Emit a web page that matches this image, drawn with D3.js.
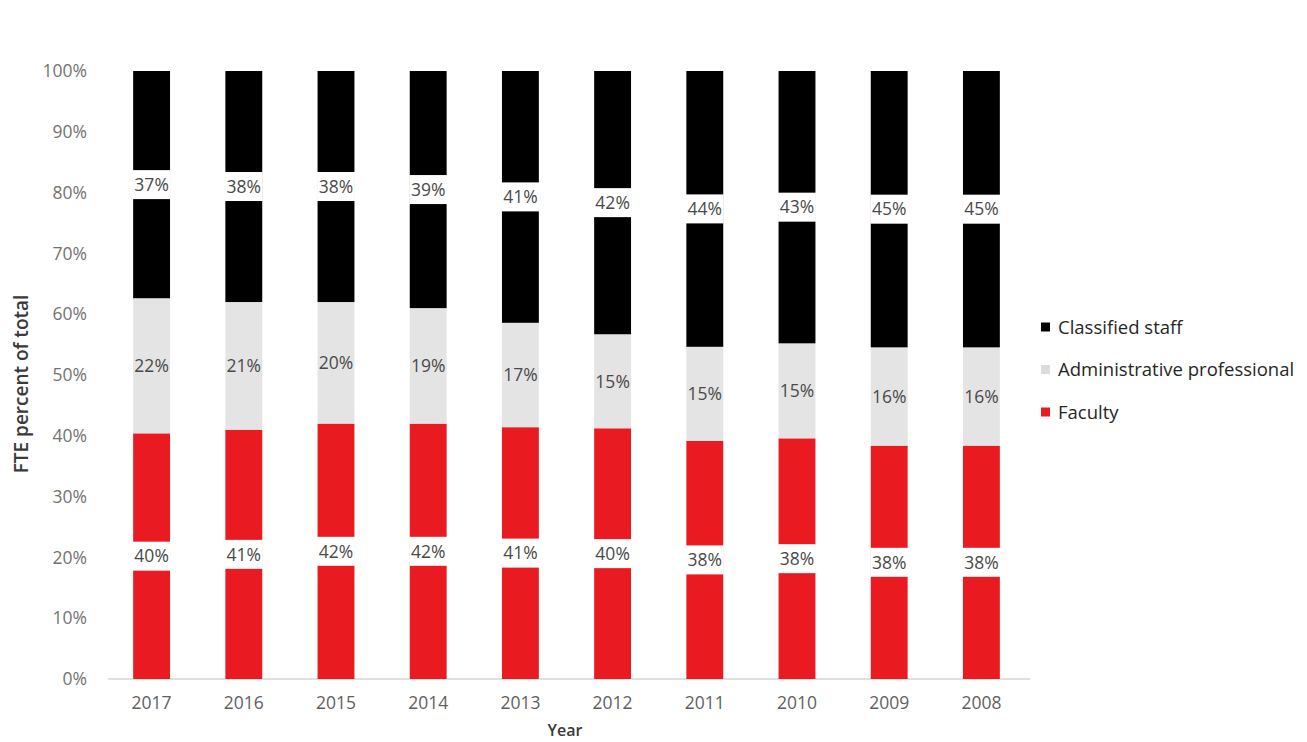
<!DOCTYPE html>
<html>
<head>
<meta charset="utf-8">
<script src="https://cdn.jsdelivr.net/npm/d3@7"></script>
<style>
  html, body { margin: 0; padding: 0; background: #fff; }
  svg { display: block; }
  text { font-family: "Open Sans", "Liberation Sans", sans-serif; }
</style>
</head>
<body>
<svg id="chart" width="1307" height="742"></svg>
<script>
// Staffing mix by year (percent of FTE total)
const years = ["2017", "2016", "2015", "2014", "2013", "2012", "2011", "2010", "2009", "2008"];
const faculty = [40, 41, 42, 42, 41, 40, 38, 38, 38, 38];
const adminProfessional = [22, 21, 20, 19, 17, 15, 15, 15, 16, 16];
const classifiedStaff = [37, 38, 38, 39, 41, 42, 44, 43, 45, 45];
const seriesNames = ["Faculty", "Administrative professional", "Classified staff"];
const yTicks = [0, 0.1, 0.2, 0.3, 0.4, 0.5, 0.6, 0.7, 0.8, 0.9, 1];

const colors = {
  "Faculty": "#ea1a21",
  "Administrative professional": "#e4e4e4",
  "Classified staff": "#000000"
};

const rows = years.map((y, i) => ({
  year: y,
  "Faculty": faculty[i],
  "Administrative professional": adminProfessional[i],
  "Classified staff": classifiedStaff[i]
}));

const svg = d3.select("#chart");
const margin = { left: 105.5, right: 280, top: 71, bottom: 63 };
const W = 1307, H = 742;

const x = d3.scaleBand()
  .domain(years)
  .range([margin.left, margin.left + 922])
  .paddingInner(0.6)
  .paddingOuter(0.3);

const y = d3.scaleLinear()
  .domain([0, 1])
  .range([H - margin.bottom, margin.top]);

// 100% stacked layout
const stacked = d3.stack()
  .keys(seriesNames)
  .offset(d3.stackOffsetExpand)(rows);

// y axis tick labels
const yAxis = d3.axisLeft(y)
  .tickValues(yTicks)
  .tickFormat(d3.format(".0%"))
  .tickSize(0)
  .tickPadding(0);
const gy = svg.append("g")
  .attr("transform", `translate(87,0)`)
  .call(yAxis);
gy.select(".domain").remove();
gy.selectAll("text")
  .attr("fill", "#737373")
  .style("font-size", "17.5px");

// baseline
svg.append("line")
  .attr("x1", 108).attr("x2", 1030)
  .attr("y1", y(0)).attr("y2", y(0))
  .attr("stroke", "#d6d6d6").attr("stroke-width", 1.5);

// x axis labels
const xAxis = d3.axisBottom(x).tickSize(0).tickPadding(0);
const gx = svg.append("g")
  .attr("transform", `translate(0,${y(0) + 18})`)
  .call(xAxis);
gx.select(".domain").remove();
gx.selectAll("text")
  .attr("fill", "#5f5f5f")
  .attr("dy", "0.71em")
  .style("font-size", "17.5px");

// bars
const layers = svg.append("g").selectAll("g")
  .data(stacked)
  .join("g")
  .attr("fill", d => colors[d.key]);

layers.selectAll("rect")
  .data(d => d)
  .join("rect")
  .attr("x", d => x(d.data.year))
  .attr("width", x.bandwidth())
  .attr("y", d => y(d[1]))
  .attr("height", d => y(d[0]) - y(d[1]));

// value labels; faculty and classified labels sit on a white box
const labels = svg.append("g");
stacked.forEach(layer => {
  const boxed = layer.key !== "Administrative professional";
  layer.forEach(d => {
    const cx = x(d.data.year) + x.bandwidth() / 2;
    const cy = y((d[0] + d[1]) / 2);
    const g = labels.append("g").attr("transform", `translate(${cx},${cy})`);
    if (boxed) {
      g.append("rect")
        .attr("x", -x.bandwidth() / 2 - 0.5)
        .attr("width", x.bandwidth() + 1)
        .attr("y", -14.5)
        .attr("height", 29)
        .attr("fill", "#ffffff");
    }
    g.append("text")
      .attr("text-anchor", "middle")
      .attr("dy", "0.36em")
      .attr("fill", "#4a4a4a")
      .style("font-size", "17.5px")
      .text(d.data[layer.key] + "%");
  });
});

// axis titles
svg.append("text")
  .attr("transform", `translate(28,384) rotate(-90)`)
  .attr("text-anchor", "middle")
  .attr("fill", "#3a3a3a")
  .style("font-size", "19px")
  .style("font-weight", "600")
  .text("FTE percent of total");

svg.append("text")
  .attr("x", 565).attr("y", 736)
  .attr("text-anchor", "middle")
  .attr("fill", "#3a3a3a")
  .style("font-size", "16px")
  .style("font-weight", "600")
  .text("Year");

// legend
const legendItems = ["Classified staff", "Administrative professional", "Faculty"];
const legend = svg.append("g").attr("transform", "translate(1041,0)");
const legendY = d3.scalePoint().domain(legendItems).range([327, 412]);
legendItems.forEach(k => {
  const g = legend.append("g").attr("transform", `translate(0,${legendY(k)})`);
  g.append("rect")
    .attr("x", 0).attr("y", -4.5)
    .attr("width", 9).attr("height", 9)
    .attr("fill", k === "Administrative professional" ? "#dcdcdc" : colors[k]);
  g.append("text")
    .attr("x", 17).attr("dy", "0.36em")
    .attr("fill", "#262626")
    .style("font-size", "18.5px")
    .text(k);
});
</script>
</body>
</html>
